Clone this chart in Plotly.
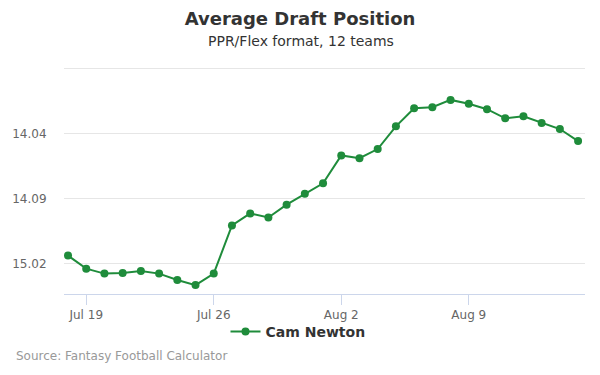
import plotly.graph_objects as go
import pandas as pd

dates = pd.date_range("2018-07-18", "2018-08-15", freq="D")
# ADP as overall pick number (12-team league): 160 = 14.04, 165 = 14.09, 170 = 15.02
adp = [169.36, 170.36, 170.74, 170.69, 170.54, 170.74, 171.23, 171.62, 170.74,
       167.05, 166.13, 166.44, 165.46, 164.62, 163.82, 161.69, 161.90, 161.20,
       159.46, 158.08, 158.00, 157.44, 157.74, 158.15, 158.85, 158.69, 159.21,
       159.67, 160.59]
ytick_vals = [155, 160, 165, 170]
ytick_text = ["", "14.04", "14.09", "15.02"]
xtick_vals = ["2018-07-19", "2018-07-26", "2018-08-02", "2018-08-09"]
xtick_text = ["Jul 19", "Jul 26", "Aug 2", "Aug 9"]

green = "#1f8c3b"
font = "DejaVu Sans"
L, R, T, B = 64, 15, 67, 81
PW, PH = 600 - L - R, 375 - T - B


def px_x(x):
    return (x - L) / PW


def px_y(y):
    return (375 - B - y) / PH


fig = go.Figure()
fig.add_trace(go.Scatter(
    x=dates, y=adp, mode="lines+markers", name="<b>Cam Newton</b>",
    line=dict(color=green, width=2),
    marker=dict(color=green, size=8),
))

fig.update_layout(
    width=600, height=375,
    margin=dict(l=L, r=R, t=T, b=B, autoexpand=False),
    paper_bgcolor="white", plot_bgcolor="white",
    font=dict(family=font, color="#666666", size=12),
    title=dict(text="<b>Average Draft Position</b>", x=0.5, xanchor="center",
               xref="container", yref="container",
               y=1 - 19 / 375, yanchor="middle",
               font=dict(family=font, size=18, color="#333333")),
    showlegend=True,
    legend=dict(orientation="h", x=px_x(298), xanchor="center", y=px_y(332), yanchor="middle",
                font=dict(family=font, size=14, color="#333333"),
                bgcolor="rgba(0,0,0,0)", itemwidth=30),
    annotations=[
        dict(text="PPR/Flex format, 12 teams", xref="paper", yref="paper",
             x=px_x(301), y=px_y(41), xanchor="center", yanchor="middle",
             showarrow=False, font=dict(family=font, size=14, color="#333333")),
        dict(text="Source: Fantasy Football Calculator", xref="paper", yref="paper",
             x=px_x(14), y=px_y(356), xanchor="left", yanchor="middle",
             showarrow=False, font=dict(family=font, size=12, color="#999999")),
    ],
)

fig.update_xaxes(
    automargin=False,
    range=["2018-07-17 18:43", "2018-08-15 09:07"],
    tickvals=xtick_vals, ticktext=xtick_text,
    showgrid=False, showline=True, linecolor="#ccd6eb", linewidth=1,
    ticks="outside", ticklen=10, tickcolor="#ccd6eb",
    tickfont=dict(family=font, size=12, color="#666666"),
    zeroline=False,
)
fig.update_yaxes(
    automargin=False,
    range=[172.3, 154.92],
    tickvals=ytick_vals, ticktext=ytick_text,
    showgrid=True, gridcolor="#e6e6e6", gridwidth=1,
    showline=False, zeroline=False,
    ticks="outside", ticklen=14, tickcolor="rgba(0,0,0,0)",
    tickfont=dict(family=font, size=12, color="#666666"),
)

fig.write_html("out.html", config={"displayModeBar": False},
               post_script="document.body.style.margin='0';")
